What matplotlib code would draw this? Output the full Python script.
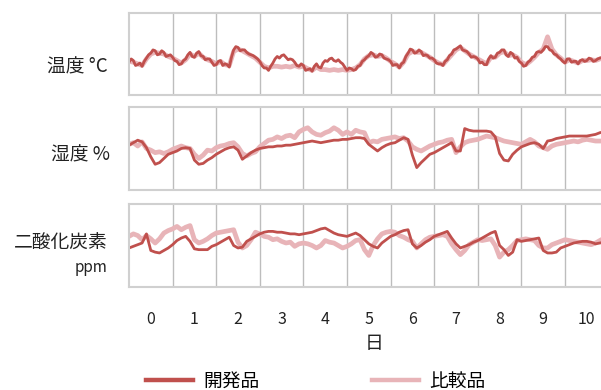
import numpy as np
import matplotlib
matplotlib.use("Agg")
import matplotlib.pyplot as plt

plt.rcParams['font.family'] = ['Noto Sans CJK JP', 'DejaVu Sans']

# readings every 0.1 day, from -0.5 to 10.3 (relative height in each panel, 0-100)
days = np.arange(109) * 0.1 - 0.5
# the noisy temperature trace was read every 0.05 day
temp_days = np.arange(217) * 0.05 - 0.5
day_labels = [str(d) for d in range(11)]
series_names = ['開発品', '比較品']
panel_labels = ['温度 °C', '湿度 %', '二酸化炭素']

temp_dev = [40, 44, 42, 36, 37, 39, 35, 41, 45, 49, 51, 55, 54, 49, 50, 54, 52, 47, 48, 49,
            46, 42, 41, 37, 38, 42, 44, 49, 52, 47, 46, 51, 53, 48, 47, 43, 44, 44, 40, 36,
            37, 41, 42, 36, 38, 37, 34, 46, 55, 59, 58, 54, 55, 55, 52, 50, 49, 48, 46, 44,
            41, 36, 33, 33, 30, 35, 39, 44, 47, 45, 48, 49, 46, 43, 44, 43, 40, 36, 35, 38,
            36, 30, 31, 32, 29, 35, 38, 34, 33, 39, 42, 41, 44, 45, 42, 41, 43, 40, 38, 34,
            30, 33, 32, 30, 31, 35, 36, 41, 43, 46, 48, 52, 50, 46, 47, 50, 49, 45, 44, 43,
            41, 36, 37, 37, 33, 38, 40, 47, 51, 56, 55, 51, 52, 55, 53, 48, 49, 48, 45, 45,
            43, 39, 38, 38, 36, 41, 43, 48, 50, 55, 56, 58, 60, 55, 54, 53, 50, 46, 47, 46,
            44, 39, 40, 37, 37, 44, 48, 45, 46, 51, 52, 55, 55, 49, 47, 52, 50, 45, 46, 41,
            39, 35, 36, 40, 42, 46, 47, 52, 53, 52, 55, 59, 59, 55, 54, 50, 49, 46, 44, 41,
            39, 44, 44, 40, 41, 41, 38, 42, 43, 41, 42, 45, 44, 41, 42, 44, 45]
temp_cmp = [41, 40, 38, 36, 44, 50, 52, 51, 50, 47,
            45, 42, 39, 43, 50, 47, 51, 46, 43, 41,
            38, 41, 37, 36, 53, 56, 54, 51, 48, 45,
            40, 35, 33, 35, 35, 34, 35, 34, 36, 34,
            35, 32, 30, 34, 31, 31, 30, 31, 30, 31,
            30, 31, 33, 37, 44, 48, 49, 47, 48, 45,
            41, 38, 34, 40, 50, 53, 52, 52, 49, 46,
            42, 39, 37, 43, 49, 55, 58, 54, 50, 47,
            44, 41, 38, 46, 46, 51, 53, 48, 49, 46,
            40, 37, 41, 46, 52, 56, 71, 56, 49, 45,
            40, 43, 41, 39, 42, 42, 43, 42, 44]

hum_dev = [54, 57, 60, 58, 51, 40, 31, 33, 38, 43,
           45, 47, 50, 51, 50, 36, 31, 32, 36, 39,
           43, 46, 49, 51, 52, 48, 37, 41, 45, 48,
           50, 51, 52, 52, 53, 53, 54, 54, 55, 56,
           57, 58, 59, 58, 57, 58, 59, 60, 60, 61,
           61, 62, 63, 63, 62, 55, 51, 47, 51, 54,
           56, 57, 60, 63, 61, 42, 27, 33, 38, 43,
           45, 48, 51, 54, 57, 47, 47, 74, 72, 71,
           71, 71, 71, 70, 64, 44, 36, 35, 43, 48,
           52, 54, 56, 57, 55, 50, 59, 60, 62, 63,
           64, 65, 65, 65, 65, 65, 66, 67, 69]
hum_cmp = [55, 57, 53, 58, 50, 48, 45, 46, 44, 46,
           49, 51, 53, 51, 50, 43, 38, 42, 48, 47,
           51, 53, 54, 56, 57, 52, 44, 41, 44, 46,
           52, 56, 60, 61, 64, 62, 65, 66, 63, 70,
           73, 75, 70, 67, 66, 69, 71, 75, 72, 67,
           70, 67, 72, 70, 69, 57, 59, 58, 61, 62,
           63, 64, 62, 63, 59, 52, 49, 47, 50, 53,
           55, 57, 58, 60, 61, 45, 52, 57, 59, 60,
           61, 63, 65, 64, 63, 61, 59, 58, 57, 56,
           55, 58, 61, 58, 53, 51, 49, 53, 55, 56,
           57, 58, 59, 58, 60, 61, 60, 59, 59]

co2_dev = [47, 49, 51, 53, 64, 44, 42, 41, 44, 47,
           51, 56, 59, 61, 55, 46, 45, 45, 45, 49,
           51, 54, 57, 60, 50, 47, 48, 55, 58, 61,
           64, 66, 67, 67, 66, 66, 65, 64, 64, 63,
           64, 65, 66, 68, 70, 71, 68, 65, 63, 62,
           61, 63, 65, 62, 57, 52, 49, 47, 53, 57,
           61, 63, 66, 68, 69, 52, 47, 50, 54, 57,
           61, 63, 65, 67, 59, 52, 47, 49, 51, 54,
           56, 59, 62, 65, 67, 50, 45, 38, 42, 57,
           55, 56, 57, 58, 59, 44, 41, 41, 42, 47,
           49, 51, 53, 54, 55, 55, 54, 52, 53]
co2_cmp = [61, 64, 62, 57, 62, 58, 53, 58, 65, 68,
           70, 73, 69, 72, 74, 57, 53, 55, 58, 62,
           65, 66, 67, 68, 69, 54, 47, 50, 57, 66,
           64, 61, 60, 57, 58, 55, 53, 54, 49, 52,
           53, 52, 50, 47, 50, 56, 54, 53, 50, 47,
           49, 52, 56, 57, 45, 38, 50, 58, 64, 66,
           67, 66, 62, 60, 57, 55, 47, 52, 57, 60,
           61, 62, 63, 61, 52, 45, 39, 44, 51, 54,
           57, 56, 57, 58, 50, 36, 42, 45, 50, 56,
           57, 58, 57, 56, 50, 47, 47, 51, 53, 55,
           57, 56, 55, 54, 53, 52, 51, 53, 56]

dev_color = '#c0504d'
cmp_color = '#e8b4b8'
W, H = 601, 390

fig = plt.figure(figsize=(W / 100, H / 100), dpi=100)

# panel boxes in pixels: (top, bottom)
boxes = [(13, 95), (107, 190), (204, 287)]
data = [((temp_days, temp_dev), (days, temp_cmp)),
        ((days, hum_dev), (days, hum_cmp)),
        ((days, co2_dev), (days, co2_cmp))]
left = 129

axes = []
for (top, bottom), (dev, cmp_) in zip(boxes, data):
    ax = fig.add_axes([left / W, 1 - bottom / H, (W - left) / W, (bottom - top) / H])
    ax.plot(cmp_[0], cmp_[1], color=cmp_color, lw=3.4)
    ax.plot(dev[0], dev[1], color=dev_color, lw=2.0)
    ax.set_xlim(-0.5, (W - left) / 43.6 - 0.5)
    ax.set_ylim(0, 100)
    ax.set_yticks([])
    ax.set_xticks(np.arange(0.5, 10.5, 1.0), minor=True)
    ax.grid(True, which='minor', axis='x', color='#bdbdbd', lw=1.0)
    ax.tick_params(which='both', length=0)
    ax.set_xticks(range(11))
    ax.set_xticklabels([])
    for s in ax.spines.values():
        s.set_color('#d0d0d0')
        s.set_linewidth(1.5)
    ax.spines['right'].set_visible(False)
    axes.append(ax)

axes[-1].set_xticklabels(day_labels, fontsize=11.5, color='#222222')
axes[-1].tick_params(axis='x', pad=17)

# row labels
fig.text(108 / W, 1 - 67 / H, panel_labels[0], ha='right', va='center', fontsize=13.5, color='#222222')
fig.text(110 / W, 1 - 155 / H, panel_labels[1], ha='right', va='center', fontsize=13.5, color='#222222')
fig.text(108 / W, 1 - 243 / H, panel_labels[2], ha='right', va='center', fontsize=13.5, color='#222222')
fig.text(108 / W, 1 - 267 / H, 'ppm', ha='right', va='center', fontsize=11, color='#222222')
fig.text(374 / W, 1 - 344 / H, '日', ha='center', va='center', fontsize=13.5, color='#222222')

h1, = axes[0].plot([], [], color=dev_color, lw=3.2)
h2, = axes[0].plot([], [], color=cmp_color, lw=3.2)
fig.legend([h1, h2], series_names, loc='center', bbox_to_anchor=(316 / W, 1 - 381 / H),
           ncol=2, frameon=False, fontsize=13.5, handlelength=2.5, handletextpad=0.55,
           columnspacing=6.0)

fig.savefig('out.png', dpi=100)
